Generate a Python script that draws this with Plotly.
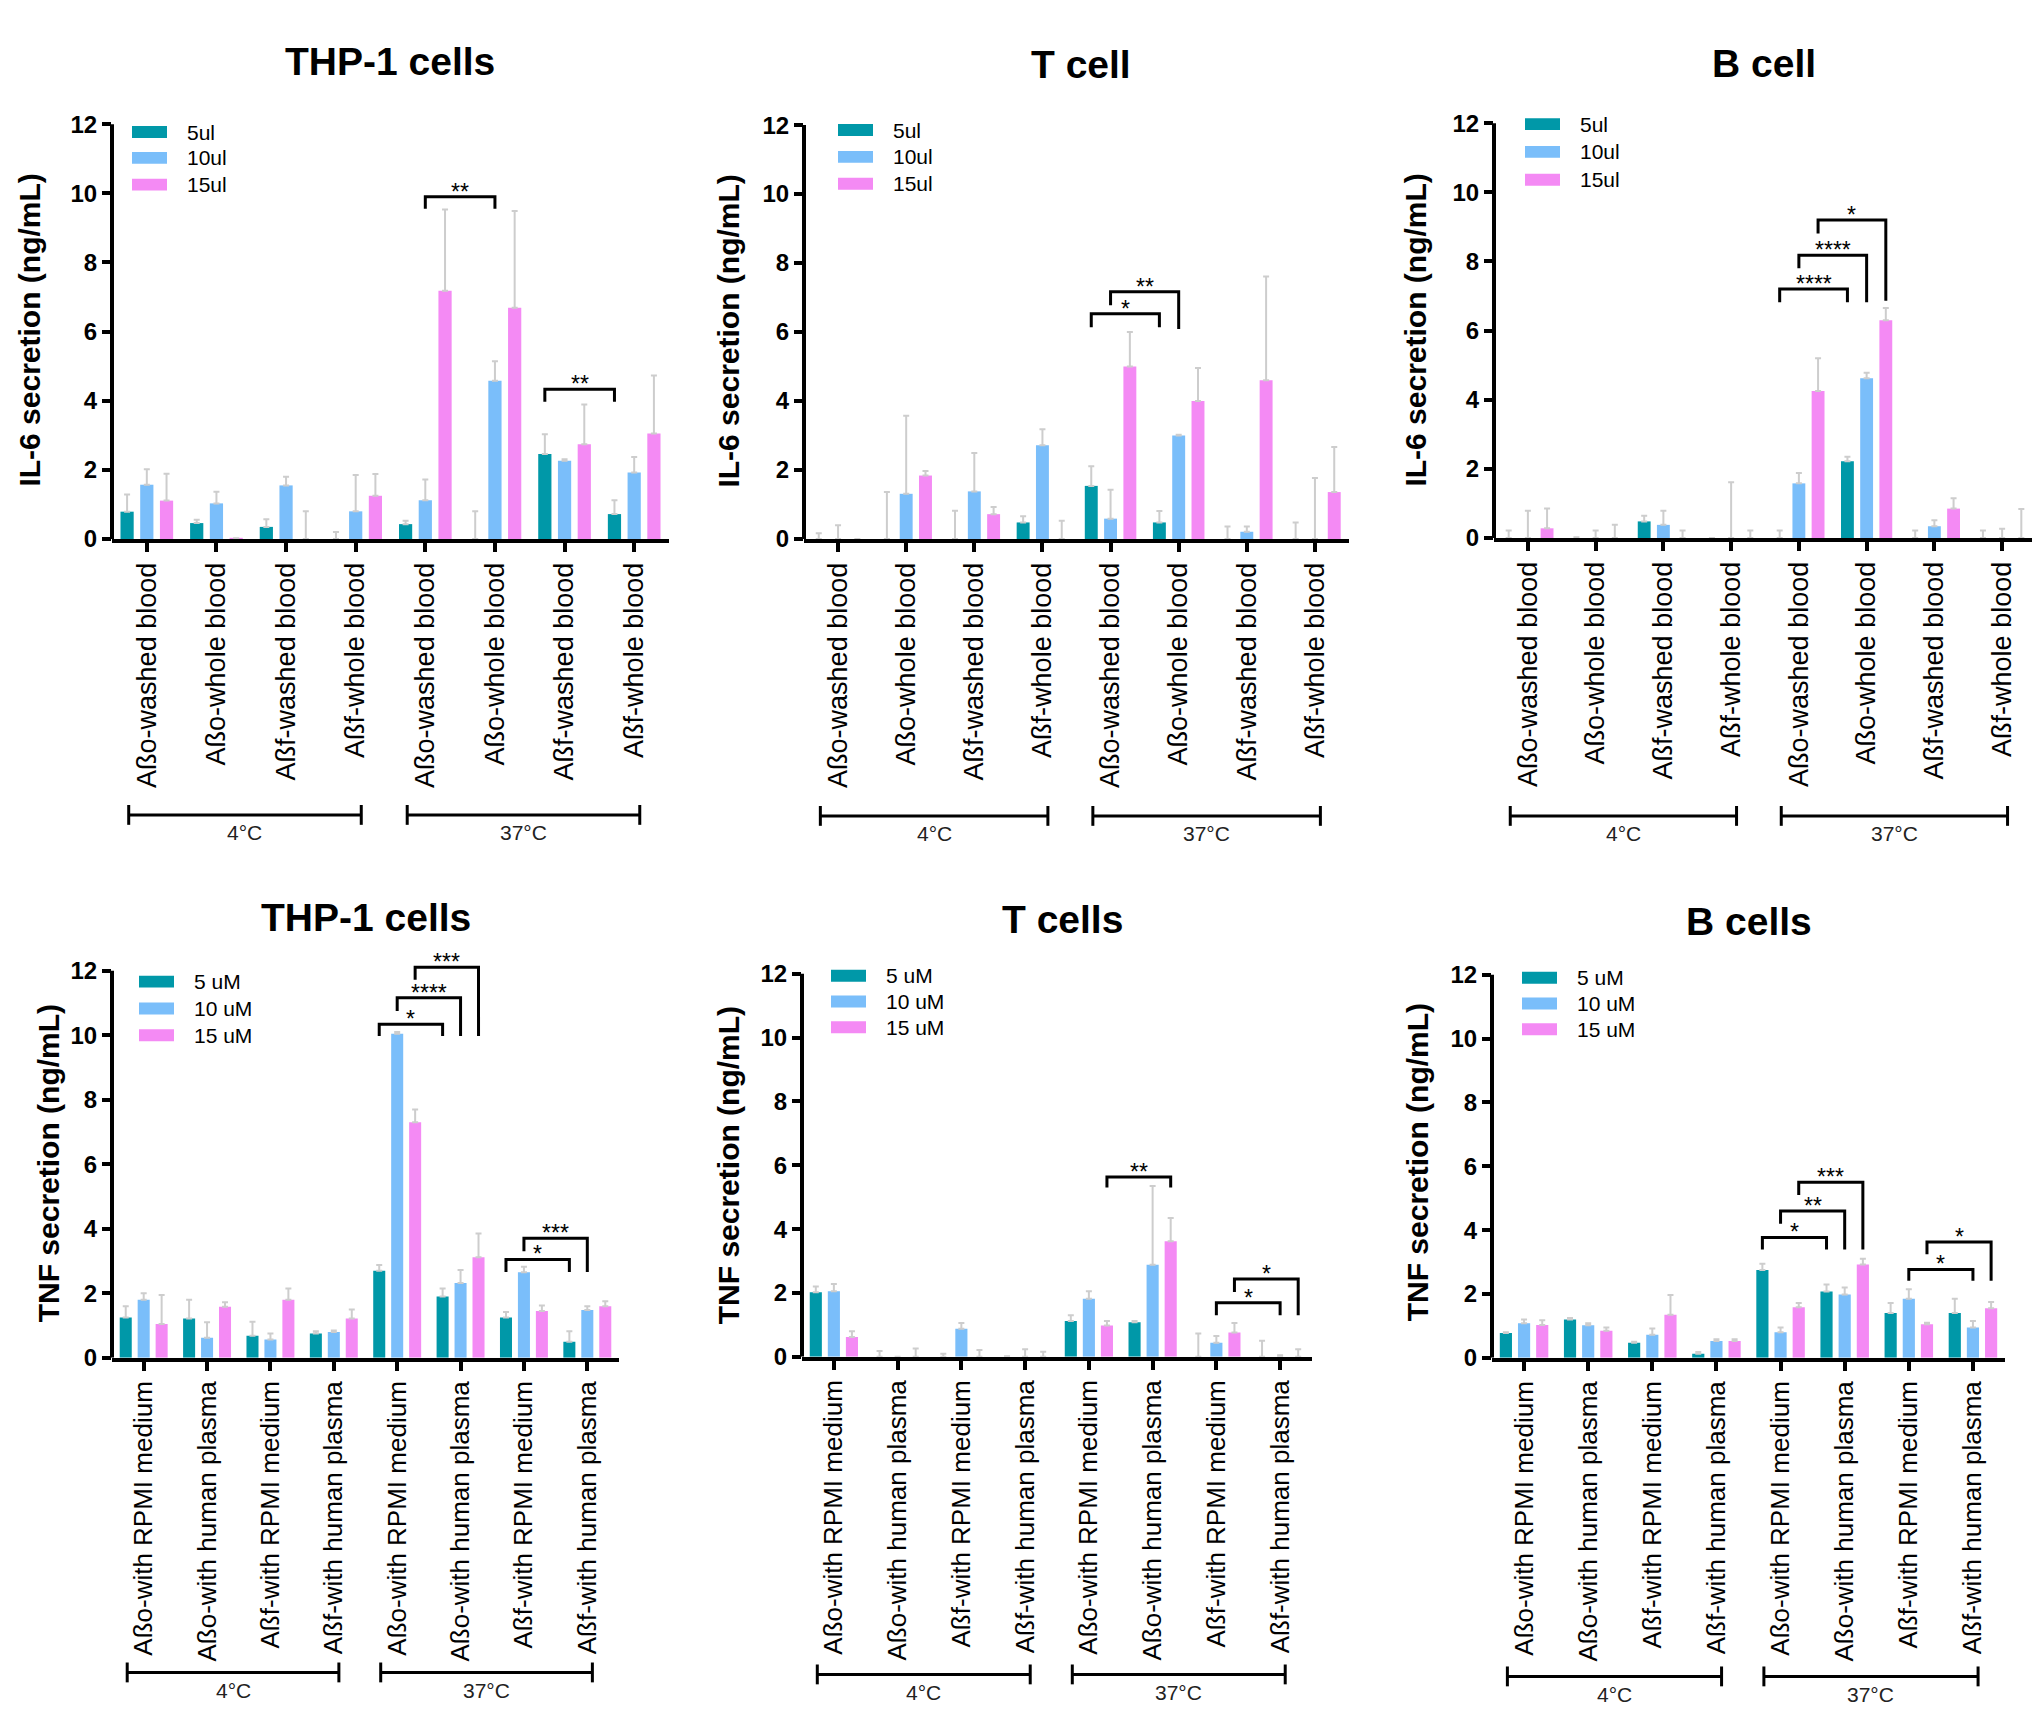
import plotly.graph_objects as go

W, H = 2040, 1735
FONT = "Liberation Sans, Arial, sans-serif"

# ---------------- data ----------------
cats_il6 = ["Aßo-washed blood", "Aßo-whole blood", "Aßf-washed blood", "Aßf-whole blood",
            "Aßo-washed blood", "Aßo-whole blood", "Aßf-washed blood", "Aßf-whole blood"]
cats_tnf = ["Aßo-with RPMI medium", "Aßo-with human plasma", "Aßf-with RPMI medium", "Aßf-with human plasma",
            "Aßo-with RPMI medium", "Aßo-with human plasma", "Aßf-with RPMI medium", "Aßf-with human plasma"]
temp_groups = ["4°C", "37°C"]
series_il6 = ["5ul", "10ul", "15ul"]
series_tnf = ["5 uM", "10 uM", "15 uM"]
y_ticks = [0, 2, 4, 6, 8, 10, 12]

titles = ["THP-1 cells", "T cell", "B cell", "THP-1 cells", "T cells", "B cells"]
ytitle_il6 = "IL-6 secretion (ng/mL)"
ytitle_tnf = "TNF secretion (ng/mL)"

# IL-6, THP-1 cells
il6_thp1_5 = [0.79, 0.46, 0.35, 0.0, 0.43, 0.0, 2.46, 0.72]
il6_thp1_5_sd = [0.50, 0.10, 0.22, 0.20, 0.10, 0.80, 0.57, 0.40]
il6_thp1_10 = [1.57, 1.03, 1.55, 0.80, 1.12, 4.58, 2.26, 1.92]
il6_thp1_10_sd = [0.45, 0.34, 0.25, 1.05, 0.60, 0.56, 0.05, 0.45]
il6_thp1_15 = [1.11, 0.02, 0.0, 1.25, 7.18, 6.69, 2.74, 3.05]
il6_thp1_15_sd = [0.78, 0.0, 0.80, 0.63, 2.35, 2.80, 1.15, 1.68]

# IL-6, T cell
il6_t_5 = [0.0, 0.0, 0.0, 0.48, 1.54, 0.48, 0.0, 0.0]
il6_t_5_sd = [0.17, 1.36, 0.82, 0.18, 0.57, 0.33, 0.36, 0.48]
il6_t_10 = [0.0, 1.31, 1.38, 2.72, 0.59, 3.0, 0.21, 0.0]
il6_t_10_sd = [0.40, 2.26, 1.11, 0.46, 0.84, 0.02, 0.15, 1.77]
il6_t_15 = [0.0, 1.84, 0.72, 0.0, 5.0, 4.0, 4.6, 1.36]
il6_t_15_sd = [0.0, 0.13, 0.21, 0.53, 1.0, 0.96, 3.01, 1.31]

# IL-6, B cell
il6_b_5 = [0.0, 0.0, 0.48, 0.0, 0.0, 2.22, 0.0, 0.0]
il6_b_5_sd = [0.22, 0.02, 0.16, 0.0, 0.22, 0.13, 0.22, 0.22]
il6_b_10 = [0.0, 0.0, 0.38, 0.0, 1.58, 4.62, 0.34, 0.0]
il6_b_10_sd = [0.79, 0.22, 0.41, 1.61, 0.30, 0.16, 0.17, 0.27]
il6_b_15 = [0.28, 0.0, 0.0, 0.0, 4.25, 6.30, 0.85, 0.0]
il6_b_15_sd = [0.57, 0.38, 0.22, 0.22, 0.95, 0.35, 0.30, 0.84]

# TNF, THP-1 cells
tnf_thp1_5 = [1.25, 1.22, 0.68, 0.75, 2.70, 1.90, 1.25, 0.50]
tnf_thp1_5_sd = [0.35, 0.58, 0.44, 0.07, 0.18, 0.25, 0.17, 0.32]
tnf_thp1_10 = [1.80, 0.62, 0.57, 0.80, 10.05, 2.32, 2.65, 1.48]
tnf_thp1_10_sd = [0.20, 0.48, 0.18, 0.05, 0.05, 0.40, 0.17, 0.12]
tnf_thp1_15 = [1.05, 1.58, 1.80, 1.22, 7.30, 3.12, 1.45, 1.60]
tnf_thp1_15_sd = [0.90, 0.14, 0.35, 0.28, 0.40, 0.73, 0.17, 0.15]

# TNF, T cells
tnf_t_5 = [2.02, 0.0, 0.0, 0.0, 1.12, 1.08, 0.0, 0.0]
tnf_t_5_sd = [0.18, 0.18, 0.10, 0.02, 0.18, 0.04, 0.73, 0.50]
tnf_t_10 = [2.05, 0.0, 0.88, 0.0, 1.82, 2.88, 0.44, 0.0]
tnf_t_10_sd = [0.23, 0.0, 0.18, 0.24, 0.23, 2.47, 0.21, 0.05]
tnf_t_15 = [0.62, 0.0, 0.0, 0.0, 0.98, 3.62, 0.76, 0.0]
tnf_t_15_sd = [0.18, 0.26, 0.21, 0.16, 0.14, 0.73, 0.30, 0.24]

# TNF, B cells
tnf_b_5 = [0.78, 1.20, 0.47, 0.13, 2.75, 2.08, 1.40, 1.40]
tnf_b_5_sd = [0.02, 0.05, 0.03, 0.05, 0.20, 0.22, 0.32, 0.45]
tnf_b_10 = [1.08, 1.02, 0.72, 0.53, 0.80, 1.98, 1.85, 0.95]
tnf_b_10_sd = [0.12, 0.06, 0.20, 0.05, 0.15, 0.22, 0.30, 0.20]
tnf_b_15 = [1.03, 0.85, 1.35, 0.53, 1.58, 2.92, 1.05, 1.55]
tnf_b_15_sd = [0.15, 0.10, 0.62, 0.05, 0.14, 0.18, 0.05, 0.20]

# significance brackets: (left cat, left series, right cat, right series, top y, left leg y, right leg y, label)
sig_il6_thp1 = [(4, 1, 5, 1, 9.9, 9.55, 9.55, "**"),
                (6, 0, 7, 0, 4.33, 3.97, 3.97, "**")]
sig_il6_t = [(4, 0, 5, 0, 6.53, 6.14, 6.14, "*"),
             (4, 1, 5, 1, 7.17, 6.78, 6.09, "**")]
sig_il6_b = [(4, 0, 5, 0, 7.2, 6.82, 6.82, "****"),
             (4, 1, 5, 1, 8.18, 7.8, 6.82, "****"),
             (4, 2, 5, 2, 9.2, 8.81, 6.86, "*")]
sig_tnf_thp1 = [(4, 0, 5, 0, 10.34, 9.98, 9.98, "*"),
                (4, 1, 5, 1, 11.16, 10.75, 9.98, "****"),
                (4, 2, 5, 2, 12.11, 11.72, 9.98, "***"),
                (6, 0, 7, 0, 3.05, 2.66, 2.66, "*"),
                (6, 1, 7, 1, 3.71, 3.30, 2.66, "***")]
sig_tnf_t = [(4, 2, 5, 2, 5.63, 5.3, 5.3, "**"),
             (6, 1, 7, 1, 1.69, 1.3, 1.3, "*"),
             (6, 2, 7, 2, 2.44, 2.03, 1.3, "*")]
sig_tnf_b = [(4, 0, 5, 0, 3.77, 3.39, 3.39, "*"),
             (4, 1, 5, 1, 4.6, 4.2, 3.39, "**"),
             (4, 2, 5, 2, 5.5, 5.1, 3.39, "***"),
             (6, 1, 7, 1, 2.77, 2.41, 2.41, "*"),
             (6, 2, 7, 2, 3.63, 3.24, 2.41, "*")]

# ---------------- styling / layout ----------------
colors = ["#0098a8", "#7abefa", "#f48af4"]
err_color = "#cdcdcd"

panels = [
    dict(cats=cats_il6, series=series_il6, ytitle=ytitle_il6, xfs=27,
         means=[il6_thp1_5, il6_thp1_10, il6_thp1_15], sds=[il6_thp1_5_sd, il6_thp1_10_sd, il6_thp1_15_sd],
         sig=sig_il6_thp1, xl=104, xr=661, y0=535, y12=117, tx=382, ty=54, ytx=22, yty=325,
         lgx=124, lgy=[125, 151, 178], gly=813, gty=831),
    dict(cats=cats_il6, series=series_il6, ytitle=ytitle_il6, xfs=27,
         means=[il6_t_5, il6_t_10, il6_t_15], sds=[il6_t_5_sd, il6_t_10_sd, il6_t_15_sd],
         sig=sig_il6_t, xl=796, xr=1341, y0=535, y12=118, tx=1073, ty=57, ytx=721, yty=326,
         lgx=830, lgy=[123, 150, 177], gly=814, gty=832),
    dict(cats=cats_il6, series=series_il6, ytitle=ytitle_il6, xfs=27,
         means=[il6_b_5, il6_b_10, il6_b_15], sds=[il6_b_5_sd, il6_b_10_sd, il6_b_15_sd],
         sig=sig_il6_b, xl=1486, xr=2028, y0=534, y12=116, tx=1756, ty=56, ytx=1408, yty=325,
         lgx=1517, lgy=[117, 145, 173], gly=814, gty=832),
    dict(cats=cats_tnf, series=series_tnf, ytitle=ytitle_tnf, xfs=26,
         means=[tnf_thp1_5, tnf_thp1_10, tnf_thp1_15], sds=[tnf_thp1_5_sd, tnf_thp1_10_sd, tnf_thp1_15_sd],
         sig=sig_tnf_thp1, xl=104, xr=611, y0=1360, y12=970, tx=358, ty=916, ytx=40, yty=1164,
         lgx=131, lgy=[981, 1008, 1035], gly=1677, gty=1695),
    dict(cats=cats_tnf, series=series_tnf, ytitle=ytitle_tnf, xfs=26,
         means=[tnf_t_5, tnf_t_10, tnf_t_15], sds=[tnf_t_5_sd, tnf_t_10_sd, tnf_t_15_sd],
         sig=sig_tnf_t, xl=794, xr=1304, y0=1359, y12=973, tx=1054, ty=918, ytx=720, yty=1166,
         lgx=823, lgy=[975, 1001, 1027], gly=1679, gty=1697),
    dict(cats=cats_tnf, series=series_tnf, ytitle=ytitle_tnf, xfs=26,
         means=[tnf_b_5, tnf_b_10, tnf_b_15], sds=[tnf_b_5_sd, tnf_b_10_sd, tnf_b_15_sd],
         sig=sig_tnf_b, xl=1484, xr=1997, y0=1360, y12=974, tx=1741, ty=920, ytx=1409, yty=1163,
         lgx=1514, lgy=[977, 1003, 1029], gly=1681, gty=1699),
]

YMAX = 12.5
bargap = 0.15
slot = (1 - bargap) / 3
offsets = [-slot, 0.0, slot]


def px_x(v):
    return v / W


def px_y(v):
    return 1 - v / H


fig = go.Figure()
layout = dict(width=W, height=H, margin=dict(l=0, r=0, t=0, b=0), paper_bgcolor="white",
              plot_bgcolor="white", barmode="group", bargap=bargap, bargroupgap=0.33,
              showlegend=False, font=dict(family=FONT, color="black"))
shapes = []
annotations = []

for i, p in enumerate(panels):
    n = i + 1
    xa = "x" if n == 1 else f"x{n}"
    ya = "y" if n == 1 else f"y{n}"
    xs = list(range(len(p["cats"])))
    for s in range(3):
        fig.add_trace(go.Bar(
            x=xs, y=p["means"][s], name=p["series"][s], xaxis=xa, yaxis=ya,
            marker=dict(color=colors[s], line=dict(width=0)),
            error_y=dict(type="data", symmetric=False, array=p["sds"][s], arrayminus=[0] * len(xs),
                         color=err_color, thickness=2, width=3),
        ))
    ppu = (p["y0"] - p["y12"]) / 12.0
    top_px = p["y0"] - YMAX * ppu
    layout["xaxis" + ("" if n == 1 else str(n))] = dict(
        domain=[px_x(p["xl"]), px_x(p["xr"])], anchor=ya, range=[-0.5, len(xs) - 0.5],
        tickmode="array", tickvals=xs, ticktext=p["cats"], tickangle=-90,
        ticks="outside", ticklen=9, tickwidth=3.5, tickcolor="black",
        showline=True, linewidth=4, linecolor="black", showgrid=False, zeroline=False,
        tickfont=dict(family=FONT, size=p["xfs"], color="black"), fixedrange=True)
    layout["yaxis" + ("" if n == 1 else str(n))] = dict(
        domain=[px_y(p["y0"]), px_y(top_px)], anchor=xa, range=[0, YMAX],
        tickmode="array", tickvals=y_ticks, ticks="outside", ticklen=9, tickwidth=3.5,
        tickcolor="black", showline=False, showgrid=False, zeroline=False,
        tickfont=dict(family=FONT, size=24, color="black", weight="bold"), fixedrange=True)

    # y axis line from 0 to 12
    shapes.append(dict(type="line", xref=f"{xa} domain", yref=ya, x0=0, x1=0, y0=0, y1=y_ticks[-1],
                       line=dict(color="black", width=4)))

    # title
    annotations.append(dict(text=titles[i], xref="paper", yref="paper", x=px_x(p["tx"]), y=px_y(p["ty"]),
                            xanchor="center", yanchor="middle", showarrow=False,
                            font=dict(family=FONT, size=39, color="black", weight="bold")))
    # y title
    annotations.append(dict(text=p["ytitle"], xref="paper", yref="paper", x=px_x(p["ytx"]), y=px_y(p["yty"]),
                            xanchor="center", yanchor="middle", showarrow=False, textangle=-90,
                            font=dict(family=FONT, size=30, color="black", weight="bold")))
    # legend
    for s in range(3):
        yc = p["lgy"][s]
        shapes.append(dict(type="rect", xref="paper", yref="paper",
                           x0=px_x(p["lgx"]), x1=px_x(p["lgx"] + 35),
                           y0=px_y(yc + 6), y1=px_y(yc - 6),
                           fillcolor=colors[s], line=dict(width=0)))
        annotations.append(dict(text=p["series"][s], xref="paper", yref="paper",
                                x=px_x(p["lgx"] + 53), y=px_y(yc), xanchor="left", yanchor="middle",
                                showarrow=False, font=dict(family=FONT, size=21, color="black")))
    # significance brackets
    for (c1, s1, c2, s2, yt, yl, yr, lab) in p["sig"]:
        xa1 = c1 + offsets[s1]
        xa2 = c2 + offsets[s2]
        shapes.append(dict(type="path", xref=xa, yref=ya,
                           path=f"M {xa1},{yl} L {xa1},{yt} L {xa2},{yt} L {xa2},{yr}",
                           line=dict(color="black", width=3)))
        annotations.append(dict(text=lab, xref=xa, yref=ya, x=(xa1 + xa2) / 2, y=yt,
                                xanchor="center", yanchor="bottom", showarrow=False, yshift=-9,
                                borderpad=0,
                                font=dict(family=FONT, size=23, color="black")))
    # temperature group lines
    for g, lab in enumerate(temp_groups):
        first = g * 4
        last = g * 4 + 3
        gx0 = first - 0.26
        gx1 = last + 0.08
        shapes.append(dict(type="line", xref=xa, yref="paper", x0=gx0, x1=gx1,
                           y0=px_y(p["gly"]), y1=px_y(p["gly"]), line=dict(color="black", width=3)))
        for gx in (gx0, gx1):
            shapes.append(dict(type="line", xref=xa, yref="paper", x0=gx, x1=gx,
                               y0=px_y(p["gly"] - 10), y1=px_y(p["gly"] + 10),
                               line=dict(color="black", width=3)))
        annotations.append(dict(text=lab, xref=xa, yref="paper", x=(gx0 + gx1) / 2, y=px_y(p["gty"]),
                                xanchor="center", yanchor="middle", showarrow=False,
                                font=dict(family=FONT, size=21, color="#222222")))

layout["shapes"] = shapes
layout["annotations"] = annotations
fig.update_layout(**layout)
fig.write_html("out.html")
